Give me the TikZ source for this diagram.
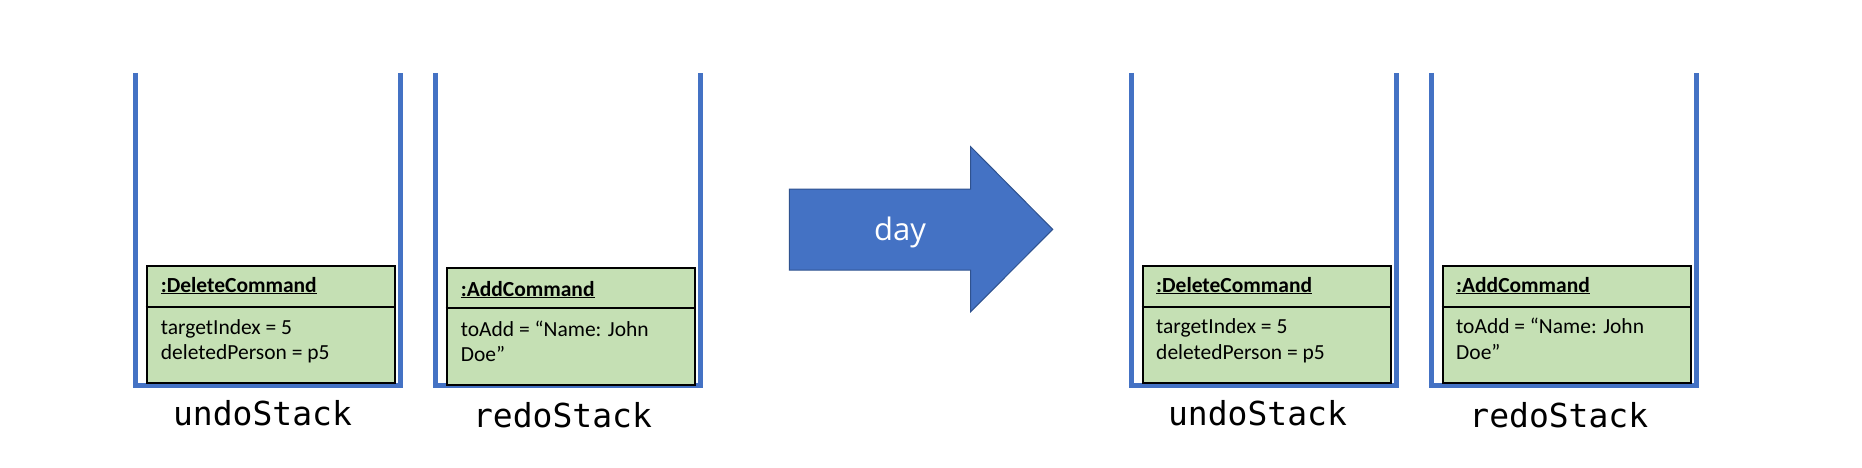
\documentclass[tikz,border=0pt]{standalone}
\usepackage{fontspec}
\setmainfont{Carlito}
\newfontfamily\monofont{DejaVu Sans Mono}
\newfontfamily\dayfont{Open Sans}
\definecolor{stackblue}{HTML}{4472C4}
\definecolor{arrowedge}{HTML}{2F528F}
\definecolor{cmdgreen}{HTML}{C5E0B4}
\newcommand{\ulbox}[1]{\underline{#1}}
\begin{document}
\begin{tikzpicture}[x=1pt,y=-1pt,
  stackline/.style={draw=stackblue, line width=5pt},
  cmdbox/.style={draw=black, line width=2pt, fill=cmdgreen, inner sep=0pt, anchor=north west, minimum width=248.5pt, minimum height=117pt},
  divider/.style={draw=black, line width=2pt},
  titletext/.style={anchor=base west, font=\fontsize{21.5}{24}\selectfont\bfseries, inner sep=0pt},
  bodytext/.style={anchor=base west, font=\fontsize{21.5}{24}\selectfont, inner sep=0pt},
  stacklabel/.style={anchor=base, font=\monofont\fontsize{33}{36}\selectfont, inner sep=0pt},
  bigarrow/.style={fill=stackblue, draw=arrowedge, line width=1pt, line join=miter}]
\useasboundingbox (0,0) rectangle (1862,468);
\fill[white] (0,0) rectangle (1862,468);

% ---------- left undo stack
\draw[stackline] (135.5,73) -- (135.5,385.3) -- (400.7,385.3) -- (400.7,73);
\node[cmdbox] (b1) at (145.7,265) {};
\draw[divider] (b1.west |- 0,306.7) -- (b1.east |- 0,306.7);
\node[titletext] (b1t) at (160.7,292) {\ulbox{:DeleteCommand}};
\node[bodytext] (b1a) at (160.7,334) {targetIndex = 5};
\node[bodytext] (b1b) at (160.7,359.3) {deletedPerson = p5};
\node[stacklabel] (l1) at (262.5,425) {undoStack};

% ---------- left redo stack
\draw[stackline] (435.5,73) -- (435.5,385.3) -- (700.7,385.3) -- (700.7,73);
\node[cmdbox] (b2) at (445.7,267.3) {};
\draw[divider] (b2.west |- 0,308) -- (b2.east |- 0,308);
\node[titletext] (b2t) at (460.7,296) {\ulbox{:AddCommand}};
\node[bodytext] (b2a) at (460.7,336.7) {toAdd = “Name: John};
\node[bodytext] (b2b) at (460.7,361.7) {Doe”};
\node[stacklabel] (l2) at (562.5,427) {redoStack};

% ---------- arrow
\draw[bigarrow] (789.3,189) -- (970.7,189) -- (970.7,146.7) -- (1052.7,229.4) -- (970.7,311.7) -- (970.7,270) -- (789.3,270) -- cycle;
\node[anchor=base, inner sep=0pt, text=white, font=\dayfont\fontsize{31}{34}\selectfont] (day) at (900,240.7) {day};

% ---------- right undo stack
\draw[stackline] (1131.7,73) -- (1131.7,385.3) -- (1396.7,385.3) -- (1396.7,73);
\node[cmdbox] (b3) at (1141.7,265) {};
\draw[divider] (b3.west |- 0,306.7) -- (b3.east |- 0,306.7);
\node[titletext] (b3t) at (1156,292) {\ulbox{:DeleteCommand}};
\node[bodytext] (b3a) at (1156,333.3) {targetIndex = 5};
\node[bodytext] (b3b) at (1156,359.3) {deletedPerson = p5};
\node[stacklabel] (l3) at (1257.5,425) {undoStack};

% ---------- right redo stack
\draw[stackline] (1431.7,73) -- (1431.7,385.3) -- (1696.7,385.3) -- (1696.7,73);
\node[cmdbox] (b4) at (1441.7,265) {};
\draw[divider] (b4.west |- 0,306.7) -- (b4.east |- 0,306.7);
\node[titletext] (b4t) at (1456,292) {\ulbox{:AddCommand}};
\node[bodytext] (b4a) at (1456,333.3) {toAdd = “Name: John};
\node[bodytext] (b4b) at (1456,359.3) {Doe”};
\node[stacklabel] (l4) at (1558.8,427) {redoStack};
\end{tikzpicture}
\end{document}
